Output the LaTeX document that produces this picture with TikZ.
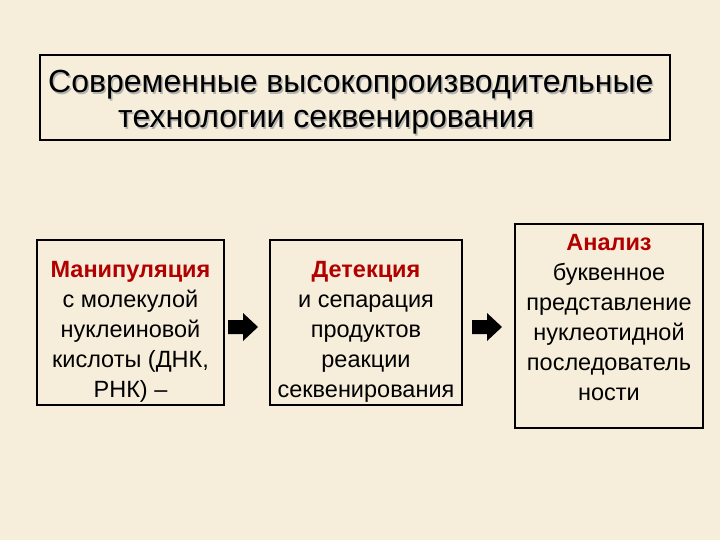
\documentclass[tikz,border=0pt]{standalone}
\usepackage{fontspec}
\setmainfont{Liberation Sans}
\begin{document}
\begin{tikzpicture}[x=1pt,y=-1pt,
  box/.style={draw=black,line width=1.2pt,fill=none},
  txt/.style={font=\fontsize{23.5}{30}\selectfont,align=center,text=black,inner sep=0pt},
  blk/.style={fill=black}]
\fill[fill={rgb,255:red,246;green,238;blue,218}] (0,0) rectangle (720,540);
\useasboundingbox (0,0) rectangle (720,540);
\draw[box] (40,55) rectangle (670,140);
\foreach \dx/\c in {1.5/gray!60,0/black}{
  \node[anchor=base west,inner sep=0pt,font=\fontsize{32}{30}\selectfont,text=\c] at (48+\dx,93+\dx) {Современные высокопроизводительные};
  \node[anchor=base west,inner sep=0pt,font=\fontsize{32}{30}\selectfont,text=\c] at (118+\dx,128+\dx) {технологии секвенирования};
}
\draw[box] (37,240) rectangle (224,405);
\node[txt] (a) at (130.5,332) {\textcolor{red!70!black}{\textbf{Манипуляция}}\\с молекулой\\нуклеиновой\\кислоты (ДНК,\\РНК) –};
\draw[box] (270,240) rectangle (462,405);
\node[txt] (b) at (366,332) {\textcolor{red!70!black}{\textbf{Детекция}}\\и сепарация\\продуктов\\реакции\\секвенирования};
\draw[box] (515,224) rectangle (703,428);
\node[txt] (c) at (609,318) {\textcolor{red!70!black}{\textbf{Анализ}}\\буквенное\\представление\\нуклеотидной\\последователь\\ности};
\foreach \x in {228,472}{
  \fill[blk] (\x,320) -- (\x+15,320) -- (\x+15,313) -- (\x+30,327) -- (\x+15,341) -- (\x+15,334) -- (\x,334) -- cycle;
}
\end{tikzpicture}
\end{document}
